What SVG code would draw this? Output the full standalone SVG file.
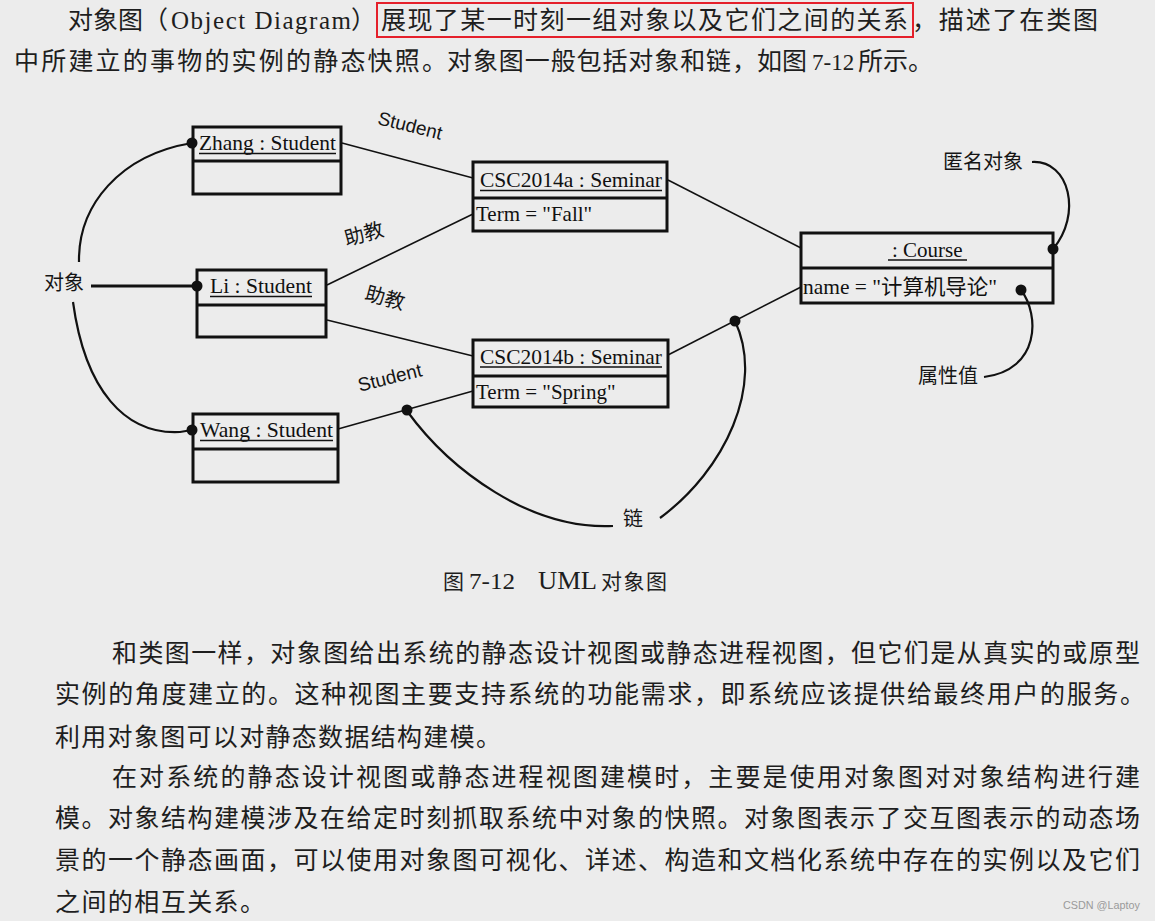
<svg xmlns="http://www.w3.org/2000/svg" width="1155" height="921" viewBox="0 0 1155 921">
<style>
.bg{fill:#ececec}
.cjk{font-family:"Noto Sans CJK SC","Noto Sans",sans-serif;fill:#1e1e1e}
.ser{font-family:"Liberation Serif","Noto Sans CJK SC",serif;fill:#1e1e1e}
.body{font-size:25px}
.lbl{font-family:"Noto Sans CJK SC",sans-serif;font-size:20px;fill:#151515}
.sans{font-family:"Liberation Sans",Arial,sans-serif;font-size:19px;fill:#151515}
.nm{font-family:"Liberation Serif","Noto Sans CJK SC",serif;font-size:21px;fill:#111}
.box{fill:none;stroke:#111;stroke-width:3}
.ul{stroke:#111;stroke-width:1.6}
.link{stroke:#111;stroke-width:1.6;fill:none}
.note{stroke:#111;stroke-width:2.2;fill:none}
.dot{fill:#111}
</style>
<rect class="bg" x="0" y="0" width="1155" height="921"/>

<!-- top paragraph -->
<g id="intro">
<text class="cjk body" x="68" y="29">对象图</text>
<text class="cjk body" x="143" y="29">（</text>
<text class="ser" x="171" y="29" font-size="25" textLength="180" lengthAdjust="spacing">Object Diagram</text>
<text class="cjk body" x="351" y="29">）</text>
<text class="cjk body" x="381" y="29" textLength="527" lengthAdjust="spacing">展现了某一时刻一组对象以及它们之间的关系</text>
<text class="cjk body" x="912" y="29" textLength="186" lengthAdjust="spacing">，描述了在类图</text>
<rect x="377" y="3" width="536" height="34" fill="none" stroke="#e5202b" stroke-width="2"/>
<text class="cjk body" x="14" y="70" textLength="433" lengthAdjust="spacing">中所建立的事物的实例的静态快照。</text>
<text class="cjk body" x="447" y="70" textLength="310" lengthAdjust="spacing">对象图一般包括对象和链，</text>
<text class="cjk body" x="757" y="70">如图</text>
<text class="ser" x="812" y="70" font-size="23">7-12</text>
<text class="cjk body" x="858" y="70">所示。</text>
</g>

<!-- nodes -->
<g id="zhang">
<rect class="box" x="193" y="127" width="148" height="67"/>
<line class="box" x1="193" y1="161" x2="341" y2="161"/>
<text class="nm" x="199" y="150" textLength="137" lengthAdjust="spacingAndGlyphs">Zhang : Student</text>
<line class="ul" x1="199" y1="153.5" x2="336" y2="153.5"/>
</g>
<g id="li">
<rect class="box" x="197" y="270" width="129" height="67"/>
<line class="box" x1="197" y1="305" x2="326" y2="305"/>
<text class="nm" x="210" y="293" textLength="102" lengthAdjust="spacingAndGlyphs">Li : Student</text>
<line class="ul" x1="210" y1="296.5" x2="312" y2="296.5"/>
</g>
<g id="wang">
<rect class="box" x="193" y="414" width="145" height="68"/>
<line class="box" x1="193" y1="449" x2="338" y2="449"/>
<text class="nm" x="200" y="437" textLength="133" lengthAdjust="spacingAndGlyphs">Wang : Student</text>
<line class="ul" x1="200" y1="440.5" x2="333" y2="440.5"/>
</g>
<g id="csc2014a">
<rect class="box" x="473" y="162" width="194" height="69"/>
<line class="box" x1="473" y1="198" x2="667" y2="198"/>
<text class="nm" x="480" y="187" textLength="182" lengthAdjust="spacingAndGlyphs">CSC2014a : Seminar</text>
<line class="ul" x1="480" y1="190.5" x2="662" y2="190.5"/>
<text class="nm" x="476" y="221">Term = "Fall"</text>
</g>
<g id="csc2014b">
<rect class="box" x="473" y="340" width="195" height="67"/>
<line class="box" x1="473" y1="376" x2="668" y2="376"/>
<text class="nm" x="480" y="364" textLength="182" lengthAdjust="spacingAndGlyphs">CSC2014b : Seminar</text>
<line class="ul" x1="480" y1="367" x2="662" y2="367"/>
<text class="nm" x="476" y="399">Term = "Spring"</text>
</g>
<g id="course">
<rect class="box" x="801" y="233" width="252" height="70"/>
<line class="box" x1="801" y1="268" x2="1053" y2="268"/>
<text class="nm" x="892" y="257">: Course</text>
<line class="ul" x1="888" y1="260" x2="967" y2="260"/>
<text class="nm" x="803" y="294" textLength="194" lengthAdjust="spacingAndGlyphs">name = "<tspan font-family="Noto Sans CJK SC">计算机导论</tspan>"</text>
</g>

<!-- connectors -->
<g id="connectors">
<line class="link" x1="342" y1="143" x2="473" y2="178"/>
<line class="link" x1="327" y1="285" x2="473" y2="214"/>
<line class="link" x1="327" y1="320" x2="473" y2="356"/>
<line class="link" x1="338" y1="429" x2="473" y2="391"/>
<line class="link" x1="668" y1="180" x2="801" y2="248"/>
<line class="link" x1="668" y1="355" x2="801" y2="287"/>
<text class="sans" transform="translate(410,126) rotate(14)" x="0" y="6" text-anchor="middle">Student</text>
<text class="lbl" transform="translate(364,234) rotate(-15)" x="0" y="7" text-anchor="middle">助教</text>
<text class="lbl" transform="translate(385,298) rotate(15)" x="0" y="7" text-anchor="middle">助教</text>
<text class="sans" transform="translate(390,378) rotate(-14)" x="0" y="6" text-anchor="middle">Student</text>
</g>

<!-- annotations -->
<g id="note-object">
<text class="lbl" x="44" y="290">对象</text>
<line x1="91" y1="286" x2="197" y2="286" stroke="#111" stroke-width="3"/>
<circle class="dot" cx="197" cy="286" r="5.5"/>
<path class="note" d="M79,262 C78,205 120,155 192,143"/>
<circle class="dot" cx="192" cy="143" r="5.5"/>
<path class="note" d="M73,302 C85,390 125,435 180,432 L192,430"/>
<circle class="dot" cx="192" cy="430" r="5.5"/>
</g>
<g id="note-link">
<circle class="dot" cx="407" cy="410" r="5.5"/>
<path class="note" d="M407,411 C450,470 530,530 613,526"/>
<text class="lbl" x="623" y="526">链</text>
<path class="note" d="M660,518 C725,470 765,385 735,321"/>
<circle class="dot" cx="735" cy="321" r="5.5"/>
</g>
<g id="note-anon">
<text class="lbl" x="943" y="169">匿名对象</text>
<path class="note" d="M1032,162 C1070,160 1082,215 1053,249"/>
<circle class="dot" cx="1053" cy="249" r="5.5"/>
</g>
<g id="note-attr">
<circle class="dot" cx="1021" cy="290" r="5.5"/>
<path class="note" d="M1021,290 C1040,315 1040,370 984,377"/>
<text class="lbl" x="918" y="383">属性值</text>
</g>

<!-- caption -->
<g id="caption">
<text class="cjk" x="443" y="589" font-size="21">图</text>
<text class="ser" x="469" y="589" font-size="24" textLength="46" lengthAdjust="spacingAndGlyphs">7-12</text>
<text class="ser" x="538" y="589" font-size="25" textLength="59" lengthAdjust="spacingAndGlyphs">UML</text>
<text class="cjk" x="601" y="589" font-size="21" textLength="66" lengthAdjust="spacing">对象图</text>
</g>

<!-- body paragraphs -->
<g id="body">
<text class="cjk body" x="112" y="662" textLength="1028" lengthAdjust="spacing">和类图一样，对象图给出系统的静态设计视图或静态进程视图，但它们是从真实的或原型</text>
<text class="cjk body" x="55" y="703" textLength="1090" lengthAdjust="spacing">实例的角度建立的。这种视图主要支持系统的功能需求，即系统应该提供给最终用户的服务。</text>
<text class="cjk body" x="55" y="746" textLength="446" lengthAdjust="spacing">利用对象图可以对静态数据结构建模。</text>
<text class="cjk body" x="112" y="786" textLength="1028" lengthAdjust="spacing">在对系统的静态设计视图或静态进程视图建模时，主要是使用对象图对对象结构进行建</text>
<text class="cjk body" x="55" y="827" textLength="1085" lengthAdjust="spacing">模。对象结构建模涉及在给定时刻抓取系统中对象的快照。对象图表示了交互图表示的动态场</text>
<text class="cjk body" x="55" y="869" textLength="1085" lengthAdjust="spacing">景的一个静态画面，可以使用对象图可视化、详述、构造和文档化系统中存在的实例以及它们</text>
<text class="cjk body" x="55" y="911" textLength="210" lengthAdjust="spacing">之间的相互关系。</text>
</g>

<text x="1063" y="909" font-family="Liberation Sans,sans-serif" font-size="11" fill="#9a9a9a" textLength="77" lengthAdjust="spacingAndGlyphs">CSDN @Laptoy</text>
</svg>
